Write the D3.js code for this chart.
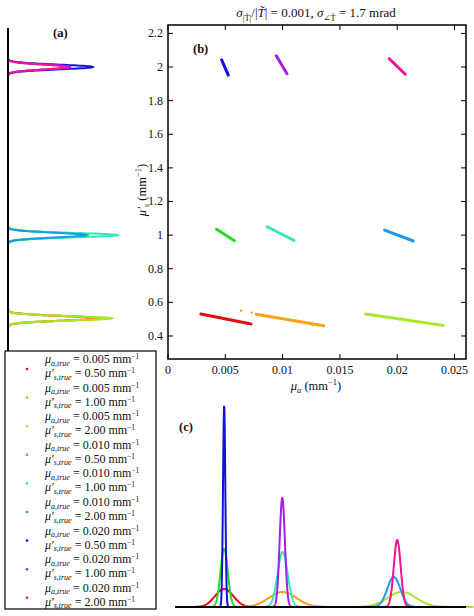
<!DOCTYPE html>
<html><head><meta charset="utf-8">
<script src="https://cdn.jsdelivr.net/npm/d3@7"></script>
<style>body{margin:0;background:#fff}text{font-family:"Liberation Serif","DejaVu Serif",serif;fill:#111}</style>
</head><body><svg id="c" width="474" height="616"></svg>
<script>
const colors=["#dd1111","#f5a31a","#a8e62a","#22dd22","#33e8b8","#1e9be8","#1111dd","#a020e8","#ee1493"];
const muaTrue=["0.005","0.005","0.005","0.010","0.010","0.010","0.020","0.020","0.020"];
const musTrue=["0.50","1.00","2.00","0.50","1.00","2.00","0.50","1.00","2.00"];
// panel b: clouds as [x1,y1,x2,y2]
const clouds=[[0.00287,0.531,0.00725,0.471],[0.0077,0.529,0.0136,0.461],[0.01725,0.531,0.024,0.463],
[0.00424,1.035,0.0058,0.967],[0.00866,1.05,0.011,0.968],[0.0189,1.03,0.0214,0.965],
[0.00468,2.043,0.00526,1.952],[0.00945,2.067,0.01038,1.96],[0.0193,2.05,0.0207,1.957]];
const strays=[[0.00638,0.55,1],[0.0073,0.538,1],[0.0126,0.465,1],[0.0235,0.465,2]];
// panel a: mu_s densities [mean, sd, peak]
const aDens=[[0.505,0.014,90],[0.505,0.014,92],[0.505,0.013,104],[1.0,0.015,80],[1.0,0.013,110],[1.0,0.014,78],[2.0,0.014,85],[2.0,0.014,62],[2.0,0.014,62]];
// panel c: mu_a densities [mean, sd, peak]
const cDens=[[0.0049,0.0008,18],[0.0100,0.0012,15],[0.0204,0.00125,15],[0.0049,0.00032,58],[0.0100,0.00044,55],[0.0197,0.00057,30],[0.0049,0.0001,201],[0.00997,0.00023,109],[0.0200,0.0003,67]];
const xTicks=[0,0.005,0.01,0.015,0.02,0.025];
const xTickLabels=["0","0.005","0.01","0.015","0.02","0.025"];
const yTicks=[0.4,0.6,0.8,1,1.2,1.4,1.6,1.8,2,2.2];

const svg=d3.select("#c");
const x=d3.scaleLinear().domain([0,0.026]).range([168,466]);
const y=d3.scaleLinear().domain([0.263,2.25]).range([359,25]);
svg.append("rect").attr("x",168).attr("y",25).attr("width",298).attr("height",334).attr("fill","none").attr("stroke","#000").attr("stroke-width",1.5);
xTicks.forEach((t,i)=>{
  svg.append("line").attr("x1",x(t)).attr("x2",x(t)).attr("y1",359).attr("y2",354).attr("stroke","#000");
  svg.append("line").attr("x1",x(t)).attr("x2",x(t)).attr("y1",25).attr("y2",30).attr("stroke","#000");
  svg.append("text").attr("x",x(t)).attr("y",374).attr("text-anchor","middle").attr("font-size",12).text(xTickLabels[i]);
});
yTicks.forEach(t=>{
  svg.append("line").attr("x1",168).attr("x2",173).attr("y1",y(t)).attr("y2",y(t)).attr("stroke","#000");
  svg.append("line").attr("x1",466).attr("x2",461).attr("y1",y(t)).attr("y2",y(t)).attr("stroke","#000");
  svg.append("text").attr("x",163).attr("y",y(t)+4).attr("text-anchor","end").attr("font-size",12).text(d3.format("~g")(t));
});
clouds.forEach((c,i)=>{
  svg.append("line").attr("x1",x(c[0])).attr("y1",y(c[1])).attr("x2",x(c[2])).attr("y2",y(c[3])).attr("stroke",colors[i]).attr("stroke-width",3).attr("stroke-linecap","round");
});
strays.forEach(s=>svg.append("circle").attr("cx",x(s[0])).attr("cy",y(s[1])).attr("r",1.2).attr("fill",colors[s[2]]));
const tt=svg.append("text").attr("x",316).attr("y",17).attr("text-anchor","middle").attr("font-size",13);
tt.append("tspan").attr("font-style","italic").text("σ");
tt.append("tspan").attr("font-size",8.5).attr("dy",4).text("|T̃|");
tt.append("tspan").attr("dy",-4).text("/|");
tt.append("tspan").attr("font-style","italic").text("T̃");
tt.append("tspan").text("| = 0.001, ");
tt.append("tspan").attr("font-style","italic").text("σ");
tt.append("tspan").attr("font-size",8.5).attr("dy",4).text("∠T̃");
tt.append("tspan").attr("dy",-4).text(" = 1.7 mrad");
const xl=svg.append("text").attr("x",316).attr("y",390).attr("text-anchor","middle").attr("font-size",12.5);
xl.append("tspan").attr("font-style","italic").text("μ");xl.append("tspan").attr("font-size",8.5).attr("dy",3).attr("font-style","italic").text("a");
xl.append("tspan").attr("dy",-3).text(" (mm");xl.append("tspan").attr("font-size",8.5).attr("dy",-5).text("−1");xl.append("tspan").attr("dy",5).text(")");
const yl=svg.append("text").attr("transform","translate(146,190) rotate(-90)").attr("text-anchor","middle").attr("font-size",12.5);
yl.append("tspan").attr("font-style","italic").text("μ′");yl.append("tspan").attr("font-size",8.5).attr("dy",3).attr("font-style","italic").text("s");
yl.append("tspan").attr("dy",-3).text(" (mm");yl.append("tspan").attr("font-size",8.5).attr("dy",-5).text("−1");yl.append("tspan").attr("dy",5).text(")");
svg.append("text").attr("x",193).attr("y",53).attr("font-weight","bold").attr("font-size",12.5).text("(b)");
svg.append("text").attr("x",53).attr("y",37).attr("font-weight","bold").attr("font-size",12.5).text("(a)");
svg.append("text").attr("x",179).attr("y",431).attr("font-weight","bold").attr("font-size",12.5).text("(c)");

const gauss=(v,m,s,p)=>p*Math.exp(-0.5*((v-m)/s)**2);
const ad=d3.scaleLinear().domain([0,150]).range([8,158]);
const lineA=d3.line().x(d=>ad(d[1])).y(d=>y(d[0]));
aDens.forEach((g,i)=>{
  const pts=d3.range(g[0]-0.08,g[0]+0.08,0.001).map(v=>[v,gauss(v,g[0],g[1],g[2])]);
  svg.append("path").attr("d",lineA(pts)).attr("fill","none").attr("stroke",colors[i]).attr("stroke-width",2);
});
svg.append("line").attr("x1",8).attr("x2",8).attr("y1",28).attr("y2",352).attr("stroke","#000").attr("stroke-width",2);
const cy=d3.scaleLinear().domain([0,201]).range([607,406]);
const lineC=d3.line().x(d=>x(d[0])).y(d=>cy(d[1]));
cDens.forEach((g,i)=>{
  const pts=d3.range(g[0]-5*g[1],g[0]+5*g[1]+g[1]/40,g[1]/20).map(v=>[v,gauss(v,g[0],g[1],g[2])]);
  svg.append("path").attr("d",lineC(pts)).attr("fill","none").attr("stroke",colors[i]).attr("stroke-width",2);
});
svg.append("line").attr("x1",175).attr("x2",466).attr("y1",607).attr("y2",607).attr("stroke","#000").attr("stroke-width",2);
svg.append("rect").attr("x",5).attr("y",351).attr("width",151).attr("height",258).attr("fill","#fff").attr("stroke","#000").attr("stroke-width",1.2);
colors.forEach((c,i)=>{
  const y0=363+i*28.6;
  svg.append("circle").attr("cx",27).attr("cy",y0+6).attr("r",1.3).attr("fill",c);
  const t1=svg.append("text").attr("x",45).attr("y",y0).attr("font-size",12);
  t1.append("tspan").attr("font-style","italic").text("μ");
  t1.append("tspan").attr("font-size",8).attr("dy",2.5).attr("font-style","italic").text("a,true");
  t1.append("tspan").attr("dy",-2.5).text(" = "+muaTrue[i]+" mm");
  t1.append("tspan").attr("font-size",7.5).attr("dy",-4).text("−1");
  const t2=svg.append("text").attr("x",45).attr("y",y0+14).attr("font-size",12);
  t2.append("tspan").attr("font-style","italic").text("μ′");
  t2.append("tspan").attr("font-size",8).attr("dy",2.5).attr("font-style","italic").text("s,true");
  t2.append("tspan").attr("dy",-2.5).text(" = "+musTrue[i]+" mm");
  t2.append("tspan").attr("font-size",7.5).attr("dy",-4).text("−1");
});
</script></body></html>
